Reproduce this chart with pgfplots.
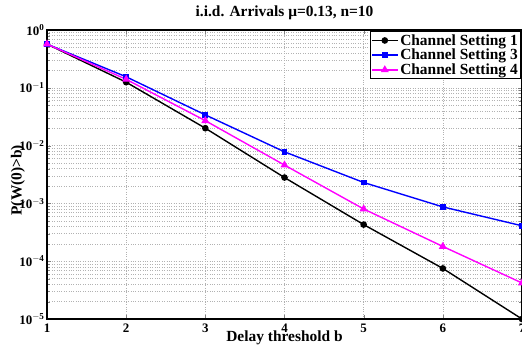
\documentclass[border=0pt]{standalone}
\usepackage{fontspec}
\setmainfont{Liberation Serif}
\usepackage{pgfplots}
\pgfplotsset{compat=1.18}
\definecolor{mag}{RGB}{255,0,255}
\begin{document}
\begin{tikzpicture}
\begin{axis}[
  at={(0,0)}, anchor=south west,
  scale only axis, width=475bp, height=289bp,
  ymode=log, xmin=1, xmax=7, ymin=1e-5, ymax=1,
  xtick={1,...,7},
  ytick={1e-5,1e-4,1e-3,1e-2,1e-1,1},
  yticklabels={\textbf{10}$^{\mathbf{-5}}$,\textbf{10}$^{\mathbf{-4}}$,\textbf{10}$^{\mathbf{-3}}$,\textbf{10}$^{\mathbf{-2}}$,\textbf{10}$^{\mathbf{-1}}$,\textbf{10}$^{\mathbf{0}}$},
  /pgf/number format/assume math mode=true,
  tick label style={font=\bfseries\fontsize{13}{14}\selectfont},
  yticklabel style={xshift=1bp},
  xticklabel style={yshift=-1bp},
  grid=both,
  major grid style={gray!60, dotted},
  minor grid style={gray!60, dotted},
  axis line style={line width=1.2pt},
  tick align=inside,
  title={\textbf{i.i.d. Arrivals μ=0.13, n=10}},
  title style={font=\fontsize{15.5}{17}\selectfont, at={(axis description cs:0.5,1.0)}, anchor=south, yshift=1bp},
  xlabel={\textbf{Delay threshold b}},
  xlabel style={font=\fontsize{15.5}{17}\selectfont, at={(axis description cs:0.5,-0.066)}, anchor=center},
  ylabel={\textbf{P(W(0)>b)}},
  ylabel style={font=\fontsize{15.5}{17}\selectfont, at={(axis description cs:-0.061,0.48)}, anchor=center},
  legend style={at={(axis description cs:0.9985,0.997)}, anchor=north east, font=\bfseries\fontsize{15.5}{17}\selectfont, draw=black, line width=1pt, inner sep=1pt, row sep=-1.5pt},
  legend cell align=left,
  legend image code/.code={\draw[mark repeat=2,mark phase=2] plot coordinates {(0cm,0cm)(0.45cm,0cm)(0.9cm,0cm)};},
  every axis plot/.append style={line width=1.4pt},
]
\addplot[black, mark=*, mark size=2.6pt] coordinates {
(1,0.57) (2,0.125) (3,0.020) (4,0.0028) (5,4.3e-4) (6,7.5e-5) (7,1.0e-5)};
\addlegendentry{Channel Setting 1}
\addplot[blue, mark=square*, mark size=2.3pt] coordinates {
(1,0.57) (2,0.155) (3,0.034) (4,0.0078) (5,0.0023) (6,8.7e-4) (7,4.1e-4)};
\addlegendentry{Channel Setting 3}
\addplot[mag, mark=triangle*, mark size=3.3pt] coordinates {
(1,0.57) (2,0.14) (3,0.027) (4,0.0046) (5,8.0e-4) (6,1.8e-4) (7,4.2e-5)};
\addlegendentry{Channel Setting 4}
\end{axis}
\pgfresetboundingbox
\path (-47bp,-31bp) rectangle (475bp,319bp);
\end{tikzpicture}
\end{document}
